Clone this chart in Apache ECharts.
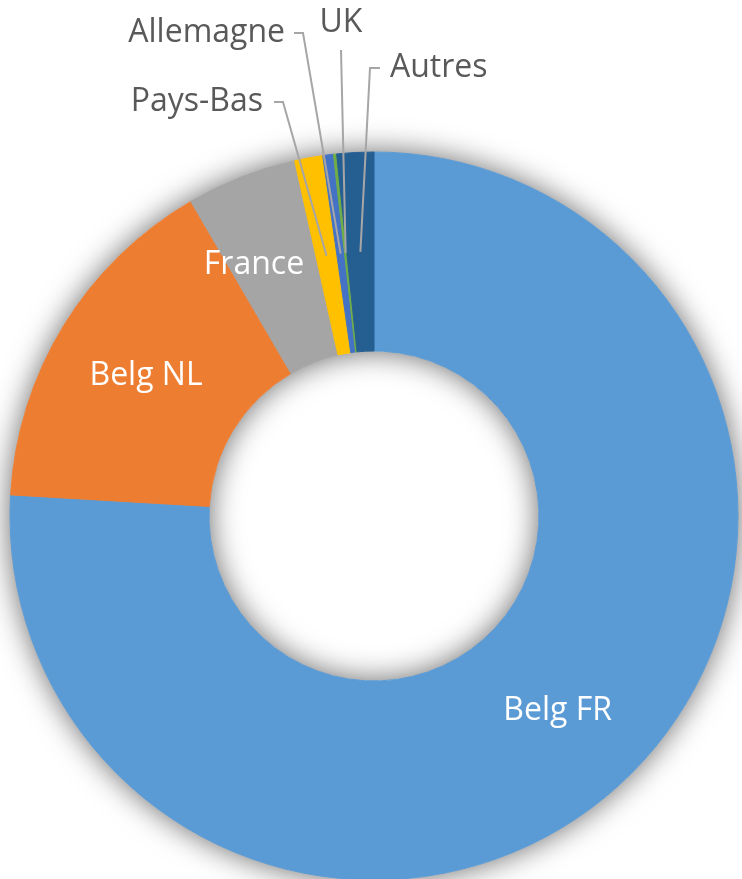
<!DOCTYPE html>
<html>
<head>
<meta charset="utf-8">
<script src="https://cdn.jsdelivr.net/npm/echarts@6/dist/echarts.min.js"></script>
<style>
  html, body { margin: 0; background: #fff; }
  #chart { width: 742px; height: 879px; }
</style>
</head>
<body>
<div id="chart"></div>
<script>
const categories = ['Belg FR', 'Belg NL', 'France', 'Pays-Bas', 'Allemagne', 'UK', 'Autres']
const values = [76.0, 15.7, 4.9, 1.25, 0.47, 0.14, 1.64]
const colors = ['#5B9BD5', '#ED7D31', '#A5A5A5', '#FFC000', '#4472C4', '#70AD47', '#255E91']
const insideLabels = ['Belg FR', 'Belg NL', 'France']

const CX = 374, CY = 516, R0 = 165, R1 = 364
const font = '"Open Sans", "DejaVu Sans", sans-serif'

// label anchors that differ from the default; outside ones also get a leader line bend and tail
const labelPos = {
  'France': { x: 254, y: 265, align: 'center' },
  'Pays-Bas': { x: 263, y: 102, align: 'right', bend: [283, 102], tail: [274, 102] },
  'Allemagne': { x: 285, y: 33, align: 'right', bend: [303, 33], tail: [294, 33] },
  'UK': { x: 341, y: 23, align: 'center', bend: [341, 50], tail: [341, 50] },
  'Autres': { x: 390, y: 68, align: 'left', bend: [370, 68], tail: [380, 68] }
}

const chart = echarts.init(document.getElementById('chart'))

chart.setOption({
  backgroundColor: '#fff',
  animation: false,
  series: [{
    // white ring only used to cast the soft shadow
    type: 'pie',
    silent: true,
    center: [CX, CY],
    radius: [R0, R1],
    label: { show: false },
    labelLine: { show: false },
    itemStyle: {
      color: '#fff',
      borderWidth: 0,
      shadowBlur: 30,
      shadowColor: 'rgba(0,0,0,0.6)'
    },
    data: [1]
  }, {
    type: 'pie',
    center: [CX, CY],
    radius: [R0, R1],
    startAngle: 90,
    clockwise: true,
    silent: true,
    avoidLabelOverlap: false,
    data: categories.map((name, i) => {
      const inside = insideLabels.includes(name)
      return {
        name,
        value: values[i],
        itemStyle: { color: colors[i], borderColor: colors[i], borderWidth: 1 },
        label: inside
          ? { position: 'inside', color: '#fff' }
          : { position: 'outside', color: '#595959' }
      }
    }),
    label: {
      formatter: '{b}',
      fontFamily: font,
      fontSize: 32
    },
    labelLine: { show: false },
    labelLayout(params) {
      const p = labelPos[categories[params.dataIndex]]
      if (!p) return {}
      return { x: p.x, y: p.y, align: p.align, verticalAlign: 'middle' }
    }
  }]
})

// leader lines: from the middle of each small slice (as laid out by echarts) to its label
const sliceData = chart.getModel().getSeriesByIndex(1).getData()
const leaders = []
categories.forEach((name, i) => {
  const p = labelPos[name]
  if (!p || !p.bend) return
  const lay = sliceData.getItemLayout(i)
  const mid = (lay.startAngle + lay.endAngle) / 2
  const rm = (lay.r0 + lay.r) / 2
  const start = [lay.cx + rm * Math.cos(mid), lay.cy + rm * Math.sin(mid)]
  leaders.push({
    type: 'polyline',
    z: 100,
    silent: true,
    shape: { points: [start, p.bend, p.tail] },
    style: { stroke: '#A6A6A6', lineWidth: 2, fill: null }
  })
})
chart.setOption({ graphic: leaders })
</script>
</body>
</html>
